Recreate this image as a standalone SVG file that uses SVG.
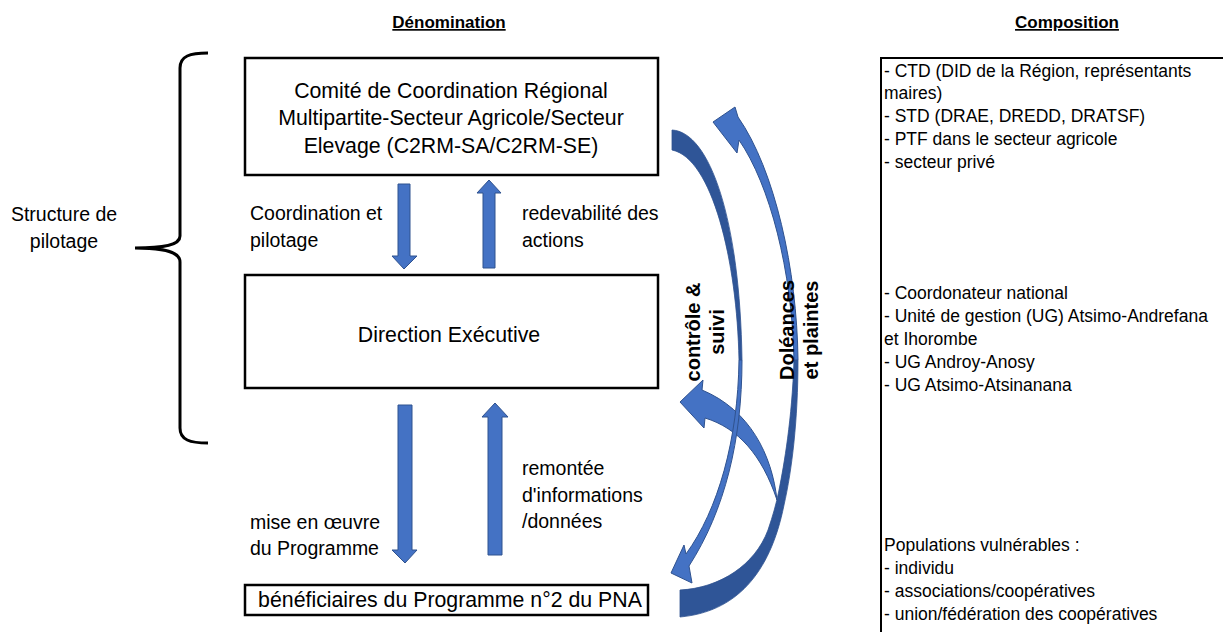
<svg xmlns="http://www.w3.org/2000/svg" width="1223" height="632" viewBox="0 0 1223 632">
<style>
text{font-family:"Liberation Sans",Arial,sans-serif;fill:#000}
.h{font-size:17px;font-weight:bold;text-decoration:underline}
.bx{fill:#fff;stroke:#000;stroke-width:2.5}
.bt{font-size:21.3px}
.lb{font-size:19.5px}
.cp{font-size:17.5px}
.rt{font-size:20px;font-weight:bold}
.ar{fill:#4472C4;stroke:#2F528F;stroke-width:1}
.bk{fill:#2F5597;stroke:#2F528F;stroke-width:0.8}
</style>
<rect width="1223" height="632" fill="#fff"/>
<text class="h" x="449" y="28" text-anchor="middle">Dénomination</text>
<text class="h" x="1067" y="28" text-anchor="middle">Composition</text>

<g id="brace">
<path d="M208,53 C190,53 180,56 180,68 L180,236 C180,245 165,248 135,248 C165,248 180,252 180,262 L180,428 C180,440 190,443 208,443" fill="none" stroke="#000" stroke-width="3"/>
<text class="lb" x="64" y="221" text-anchor="middle">Structure de</text>
<text class="lb" x="64" y="248" text-anchor="middle">pilotage</text>
</g>

<g id="c2rm">
<rect class="bx" x="245" y="58" width="413" height="117"/>
<text class="bt" x="451" y="98" text-anchor="middle">Comité de Coordination Régional</text>
<text class="bt" x="451" y="125" text-anchor="middle">Multipartite-Secteur Agricole/Secteur</text>
<text class="bt" x="451" y="153" text-anchor="middle">Elevage (C2RM-SA/C2RM-SE)</text>
</g>
<g id="direction">
<rect class="bx" x="245" y="275" width="413" height="113"/>
<text class="bt" x="449" y="342" text-anchor="middle">Direction Exécutive</text>
</g>
<g id="beneficiaires">
<rect class="bx" x="245" y="585" width="403" height="30"/>
<text class="bt" x="450" y="607" text-anchor="middle">bénéficiaires du Programme n°2 du PNA</text>
</g>

<g id="connectors">
<path class="ar" d="M398,184 L410,184 L410,256 L417,256 L404,269 L392,256 L398,256 Z"/>
<path class="ar" d="M483,268 L495,268 L495,193 L501,193 L489,180 L477,193 L483,193 Z"/>
<path class="ar" d="M398,405 L412,405 L412,550 L417,550 L405,563 L392,550 L398,550 Z"/>
<path class="ar" d="M488,555 L502,555 L502,417 L508,417 L495,403 L482,417 L488,417 Z"/>

<path class="bk" d="M680,590 C720,588 755,565 768,530 C773,515 776,505 779,490 C784,465 792,420 794,360 L798,360 C798,420 792,470 784,505 C770,575 735,612 680,617 Z"/>
<path class="ar" d="M777,500 C772,455 750,410 702,390 L703,380 L680,402 L704,428 L705,418 C738,428 762,455 777,500 Z"/>
<path class="ar" d="M798,360 C797,270 775,170 738,117 L735,107 L713,122 L737,153 L739,140 C770,185 792,270 794,360 Z"/>

<path class="bk" d="M672,130 C710,132 740,220 742,360 L739,360 C737,260 712,158 672,150 Z"/>
<path class="ar" d="M739,360 L742,360 C742,440 725,510 689,566 L692,583 L671,573 L684,545 L686,554 C718,510 738,440 739,360 Z"/>

<text class="rt" transform="translate(700,332) rotate(-90)" text-anchor="middle">contrôle &amp;</text>
<text class="rt" transform="translate(724,332) rotate(-90)" text-anchor="middle">suivi</text>
<text class="rt" transform="translate(794,330) rotate(-90)" text-anchor="middle">Doléances</text>
<text class="rt" transform="translate(818,330) rotate(-90)" text-anchor="middle">et plaintes</text>

<text class="lb" x="250" y="220">Coordination et</text>
<text class="lb" x="250" y="247">pilotage</text>
<text class="lb" x="522" y="220">redevabilité des</text>
<text class="lb" x="522" y="247">actions</text>
<text class="lb" x="522" y="475">remontée</text>
<text class="lb" x="522" y="502">d'informations</text>
<text class="lb" x="522" y="528">/données</text>
<text class="lb" x="250" y="529">mise en œuvre</text>
<text class="lb" x="250" y="555">du Programme</text>
</g>

<g id="composition">
<path d="M881,632 L881,58 L1223,58" fill="none" stroke="#000" stroke-width="2"/>
<text class="cp" x="884" y="77">- CTD (DID de la Région, représentants</text>
<text class="cp" x="884" y="99">maires)</text>
<text class="cp" x="884" y="122">- STD (DRAE, DREDD, DRATSF)</text>
<text class="cp" x="884" y="145">- PTF dans le secteur agricole</text>
<text class="cp" x="884" y="168">- secteur privé</text>
<text class="cp" x="884" y="299">- Coordonateur national</text>
<text class="cp" x="884" y="322">- Unité de gestion (UG) Atsimo-Andrefana</text>
<text class="cp" x="884" y="345">et Ihorombe</text>
<text class="cp" x="884" y="368">- UG Androy-Anosy</text>
<text class="cp" x="884" y="391">- UG Atsimo-Atsinanana</text>
<text class="cp" x="884" y="551">Populations vulnérables :</text>
<text class="cp" x="884" y="574">- individu</text>
<text class="cp" x="884" y="597">- associations/coopératives</text>
<text class="cp" x="884" y="620">- union/fédération des coopératives</text>
</g>
</svg>
